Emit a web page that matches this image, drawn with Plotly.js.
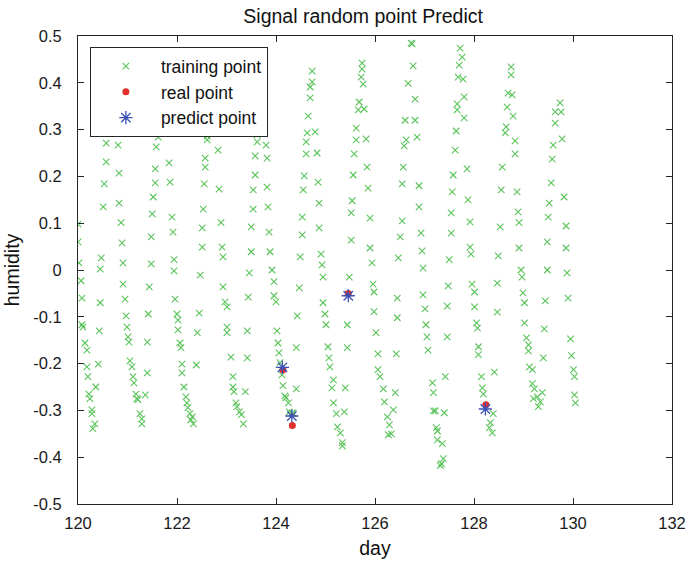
<!DOCTYPE html>
<html>
<head>
<meta charset="utf-8">
<script src="https://cdn.plot.ly/plotly-3.0.1.min.js"></script>
<style>html,body{margin:0;padding:0;background:#fff;}#chart{width:687px;height:568px;}</style>
</head>
<body>
<div id="chart"></div>
<script>
// training points (day, humidity)
const trainDay = [
120.00,120.00,120.02,120.06,120.08,120.08,120.10,120.14,120.18,120.18,120.20,120.22,120.24,120.28,120.28,120.34,120.30,
120.36,120.41,120.43,120.45,120.45,120.47,120.51,120.53,120.57,120.57,
120.81,120.83,120.83,120.87,120.89,120.91,120.91,120.95,120.97,120.99,121.01,121.03,121.05,121.09,121.11,121.13,121.17,121.19,121.21,121.25,121.29,121.29,
121.36,121.40,121.40,121.42,121.44,121.48,121.48,121.50,121.52,121.56,121.56,121.58,121.62,
121.84,121.86,121.90,121.92,121.94,121.94,121.96,122.00,122.02,122.02,122.06,122.08,122.10,122.10,122.14,122.18,122.20,122.22,122.26,122.31,122.28,122.33,
122.39,122.41,122.45,122.47,122.51,122.51,122.53,122.55,122.57,122.57,122.61,122.61,
122.83,122.85,122.89,122.91,122.93,122.93,122.97,123.01,123.01,123.01,123.09,123.13,123.13,123.15,123.19,123.21,123.26,123.30,123.34,
123.38,123.42,123.42,123.44,123.46,123.50,123.50,123.54,123.54,123.58,123.58,123.62,123.62,
123.80,123.82,123.82,123.84,123.86,123.88,123.92,123.96,123.96,124.00,124.02,124.04,124.06,124.08,124.12,124.14,124.18,124.20,124.25,124.27,124.33,124.35,
124.41,124.41,124.43,124.47,124.49,124.53,124.53,124.55,124.57,124.61,124.61,124.63,124.65,124.69,124.69,124.73,124.73,
124.79,124.83,124.85,124.87,124.87,124.91,124.93,124.95,124.95,124.99,125.01,125.05,125.07,125.09,125.16,125.13,125.16,125.22,125.24,125.30,125.34,125.34,
125.38,125.40,125.44,125.44,125.48,125.52,125.52,125.54,125.56,125.58,125.62,125.62,125.66,125.68,125.72,125.74,
125.74,125.76,125.78,125.82,125.84,125.86,125.90,125.90,125.94,125.96,125.98,125.98,126.02,126.06,126.06,126.10,126.17,126.19,126.25,126.29,126.33,126.27,
126.37,126.41,126.43,126.45,126.45,126.47,126.51,126.55,126.55,126.57,126.59,126.63,126.61,126.67,126.73,126.75,
126.77,126.81,126.81,126.85,126.89,126.89,126.93,126.95,126.97,126.97,127.01,127.03,127.05,127.07,127.16,127.18,127.18,127.22,127.24,127.26,127.26,127.36,127.38,127.34,127.32,
127.40,127.42,127.46,127.46,127.48,127.50,127.54,127.54,127.56,127.58,127.62,127.64,127.66,127.66,127.68,127.70,
127.72,127.76,127.78,127.80,127.80,127.86,127.88,127.92,127.92,127.94,127.96,128.01,128.01,128.05,128.07,128.09,128.09,128.15,128.17,128.19,128.31,128.33,128.37,128.39,
128.41,128.47,128.47,128.49,128.53,128.55,128.57,128.63,128.65,128.67,128.69,128.75,128.75,
128.77,128.79,128.83,128.83,128.87,128.89,128.91,128.91,128.95,128.97,128.99,129.02,129.02,129.06,129.10,129.10,129.12,129.18,129.18,129.22,129.20,129.28,129.30,
129.34,129.38,129.40,129.42,129.44,129.48,129.48,129.50,129.52,129.56,129.58,129.60,129.64,129.64,129.74,129.76,
129.78,129.82,129.86,129.86,129.88,129.90,129.95,129.97,130.01,130.03,130.03,130.05
];
const trainHumidity = [
0.098,0.060,0.015,-0.023,-0.060,-0.117,-0.122,-0.156,-0.171,-0.207,-0.228,-0.265,-0.275,-0.299,-0.307,-0.329,-0.339,
-0.250,-0.201,-0.130,-0.070,0.002,0.026,0.135,0.184,0.231,0.271,
0.267,0.207,0.143,0.101,0.058,0.015,-0.030,-0.062,-0.098,-0.122,-0.143,-0.154,-0.194,-0.207,-0.228,-0.241,-0.265,-0.275,-0.277,-0.307,-0.318,-0.329,
-0.267,-0.220,-0.154,-0.094,-0.036,0.013,0.071,0.120,0.156,0.186,0.216,0.263,0.284,
0.229,0.188,0.113,0.081,0.022,-0.002,-0.062,-0.094,-0.107,-0.128,-0.156,-0.166,-0.201,-0.220,-0.250,-0.271,-0.284,-0.294,-0.307,-0.314,-0.320,-0.329,
-0.203,-0.134,-0.092,-0.011,0.049,0.090,0.130,0.184,0.220,0.239,0.278,0.286,
0.256,0.173,0.101,0.049,0.028,-0.036,-0.068,-0.079,-0.122,-0.134,-0.186,-0.228,-0.250,-0.260,-0.284,-0.292,-0.303,-0.309,-0.329,
-0.260,-0.188,-0.130,-0.058,-0.006,0.039,0.092,0.130,0.171,0.203,0.244,0.274,0.289,
0.267,0.239,0.177,0.135,0.081,0.039,0.000,-0.025,-0.055,-0.068,-0.130,-0.156,-0.177,-0.198,-0.224,-0.247,-0.269,-0.273,-0.284,-0.303,-0.305,-0.307,
-0.254,-0.166,-0.098,-0.038,0.028,0.075,0.113,0.171,0.201,0.248,0.274,0.293,0.329,0.368,0.391,0.402,0.425,
0.295,0.250,0.188,0.143,0.090,0.034,0.011,-0.015,-0.070,-0.094,-0.117,-0.164,-0.188,-0.207,-0.235,-0.252,-0.284,-0.307,-0.335,-0.348,-0.369,-0.376,
-0.303,-0.252,-0.166,-0.117,-0.015,0.064,0.122,0.148,0.203,0.248,0.278,0.303,0.342,0.359,0.412,0.442,
0.429,0.397,0.344,0.280,0.220,0.175,0.111,0.047,0.015,-0.030,-0.047,-0.089,-0.134,-0.179,-0.213,-0.228,-0.254,-0.282,-0.314,-0.331,-0.350,-0.352,
-0.299,-0.262,-0.179,-0.102,-0.060,0.026,0.071,0.105,0.184,0.220,0.265,0.278,0.320,0.399,0.485,0.483,
0.436,0.365,0.320,0.284,0.180,0.135,0.079,0.041,0.004,-0.053,-0.083,-0.117,-0.143,-0.171,-0.241,-0.262,-0.301,-0.301,-0.337,-0.344,-0.363,-0.371,-0.403,-0.414,-0.418,
-0.305,-0.228,-0.143,-0.077,-0.034,0.022,0.079,0.122,0.167,0.203,0.256,0.297,0.342,0.355,0.412,0.438,
0.474,0.455,0.408,0.370,0.325,0.216,0.150,0.103,0.049,0.034,-0.030,-0.047,-0.079,-0.113,-0.124,-0.164,-0.181,-0.228,-0.252,-0.265,-0.337,-0.326,-0.348,-0.307,
-0.218,-0.090,-0.028,0.030,0.092,0.171,0.220,0.293,0.306,0.348,0.378,0.417,0.434,
0.374,0.329,0.276,0.248,0.167,0.124,0.101,0.047,0.000,-0.015,-0.049,-0.070,-0.113,-0.145,-0.160,-0.173,-0.207,-0.213,-0.243,-0.254,-0.275,-0.271,-0.292,
-0.282,-0.262,-0.188,-0.126,-0.066,0.000,0.060,0.113,0.143,0.186,0.237,0.267,0.314,0.338,0.357,0.338,
0.280,0.156,0.094,0.047,-0.006,-0.060,-0.147,-0.183,-0.213,-0.228,-0.267,-0.284
];
// real points
const realDay = [124.14, 124.33, 125.46, 128.24];
const realHumidity = [-0.213, -0.332, -0.050, -0.288];
// predicted points
const predDay = [124.13, 124.32, 125.46, 128.23];
const predHumidity = [-0.208, -0.312, -0.055, -0.297];
// tick labels
const xTickVals = [120, 122, 124, 126, 128, 130, 132];
const yTickVals = [-0.5, -0.4, -0.3, -0.2, -0.1, 0, 0.1, 0.2, 0.3, 0.4, 0.5];
const yTickText = ['-0.5', '-0.4', '-0.3', '-0.2', '-0.1', '0', '0.1', '0.2', '0.3', '0.4', '0.5'];

const FONT = 'Liberation Sans, Arial, Helvetica, sans-serif';

const traces = [
  {
    x: trainDay, y: trainHumidity, type: 'scatter', mode: 'markers', name: 'training point',
    legendgroup: 'a',
    marker: {symbol: 'x-thin-open', size: 6.5, color: '#5cc45c', line: {color: '#5cc45c', width: 1.1}}
  },
  {
    x: realDay, y: realHumidity, type: 'scatter', mode: 'markers', name: 'real point',
    legendgroup: 'b',
    marker: {symbol: 'circle', size: 7, color: '#e2302c', line: {width: 0}}
  },
  {
    x: predDay, y: predHumidity, type: 'scatter', mode: 'markers', name: 'predict point',
    legendgroup: 'c',
    marker: {symbol: 'asterisk-open', size: 11, color: '#3a50b4', line: {color: '#3a50b4', width: 1.3}}
  }
];

const axisCommon = {
  showgrid: false, zeroline: false, showline: true, linecolor: '#262626', linewidth: 1,
  mirror: 'ticks', ticks: 'inside', ticklen: 6, tickcolor: '#262626', tickwidth: 1,
  tickfont: {family: FONT, size: 16.5, color: '#1a1a1a'}
};

const layout = {
  width: 687, height: 568,
  paper_bgcolor: '#ffffff', plot_bgcolor: '#ffffff',
  margin: {l: 78, r: 15, t: 36, b: 64},
  title: {text: 'Signal random point Predict', xref: 'paper', x: 0.48, xanchor: 'center',
          yref: 'container', y: 0.972, yanchor: 'middle',
          font: {family: FONT, size: 19.5, color: '#111'}},
  xaxis: Object.assign({}, axisCommon, {
    range: [120, 132], tickmode: 'array', tickvals: xTickVals, ticktext: xTickVals.map(String),
    ticklabelstandoff: 4,
    title: {text: 'day', font: {family: FONT, size: 19.5, color: '#111'}, standoff: 10}
  }),
  yaxis: Object.assign({}, axisCommon, {
    range: [-0.5, 0.5], tickmode: 'array', tickvals: yTickVals, ticktext: yTickText,
    ticklabelstandoff: 12,
    title: {text: 'humidity', font: {family: FONT, size: 19.5, color: '#111'}, standoff: 8}
  }),
  showlegend: true,
  legend: {
    x: 0.02, y: 0.976, xanchor: 'left', yanchor: 'top',
    bgcolor: '#ffffff', bordercolor: '#262626', borderwidth: 1,
    font: {family: FONT, size: 17.5, color: '#111'},
    traceorder: 'grouped', tracegroupgap: 0, itemwidth: 60
  }
};

Plotly.newPlot('chart', traces, layout, {displayModeBar: false, staticPlot: true});
</script>
</body>
</html>
